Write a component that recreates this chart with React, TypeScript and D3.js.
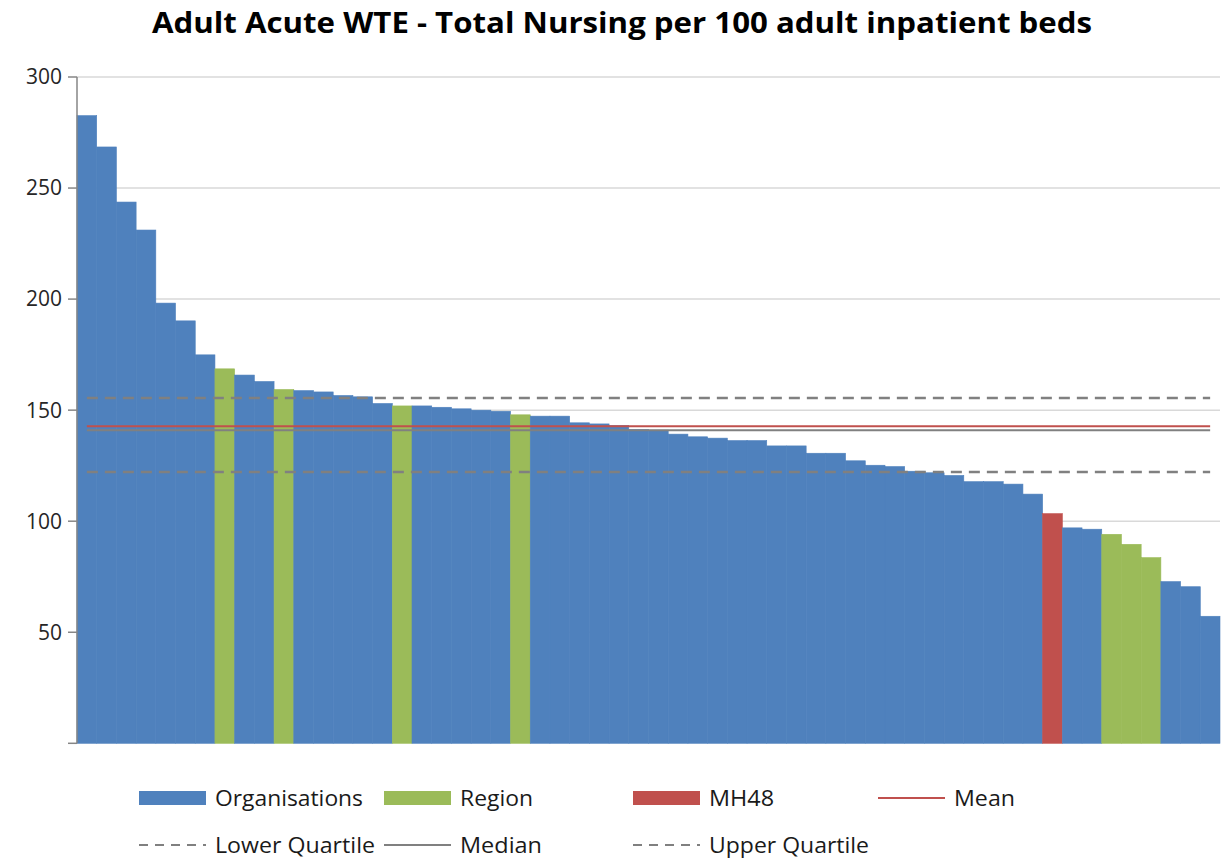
import React from "react";
import * as d3 from "d3";

const values: number[] = [
  282.6, 268.5, 243.7, 231.1, 198.2, 190.2, 174.9, 168.6, 165.8, 162.9,
  159.3, 158.8, 158.2, 156.6, 156.0, 153.0, 151.9, 151.9, 151.3, 150.6,
  150.0, 149.5, 147.9, 147.3, 147.3, 144.3, 143.8, 143.1, 141.3, 141.0,
  139.2, 138.0, 137.4, 136.3, 136.3, 133.9, 133.9, 130.6, 130.6, 127.2,
  125.2, 124.6, 122.5, 121.8, 120.6, 117.8, 117.8, 116.7, 112.2, 103.4,
  97.0, 96.4, 94.1, 89.6, 83.6, 72.8, 70.5, 57.2,
];
const groups: string[] = values.map((_, i) =>
  i === 49 ? "MH48" : [7, 10, 16, 22, 52, 53, 54].includes(i) ? "Region" : "Organisations"
);
const meanValue = 142.8;
const medianValue = 141.0;
const lowerQuartile = 122.2;
const upperQuartile = 155.5;
const yTicks: number[] = [50, 100, 150, 200, 250, 300];
const title = "Adult Acute WTE - Total Nursing per 100 adult inpatient beds";

const colors: Record<string, string> = {
  Organisations: "#4F81BD",
  Region: "#9BBB59",
  MH48: "#C0504D",
};

const W = 1221;
const H = 864;
const left = 77;
const right = 1220;
const top = 77;
const bottom = 743.3;
const FONT = "'Open Sans', Lato, sans-serif";

export default function App() {
  const idx = values.map((_, i) => String(i));
  const x = d3.scaleBand<string>().domain(idx).range([left, right]).padding(0);
  const y = d3.scaleLinear().domain([0, 300]).range([bottom, top]);
  const cx = (i: number) => (x(String(i)) as number) + x.bandwidth() / 2;
  const hline = (v: number) =>
    d3.line<number>().x((i) => cx(i)).y(() => y(v))([0, values.length - 1]) as string;

  const refLines = [
    { v: upperQuartile, color: "#808080", dash: "11 7", w: 2.5 },
    { v: lowerQuartile, color: "#808080", dash: "11 7", w: 2.5 },
    { v: medianValue, color: "#808080", dash: undefined, w: 2 },
    { v: meanValue, color: "#C0504D", dash: undefined, w: 2 },
  ];

  const legendRow1 = [
    { x: 139, label: "Organisations", kind: "rect", color: colors.Organisations, w: 148 },
    { x: 384, label: "Region", kind: "rect", color: colors.Region, w: 73 },
    { x: 633, label: "MH48", kind: "rect", color: colors.MH48, w: 65 },
    { x: 878, label: "Mean", kind: "line", color: "#C0504D", w: 61 },
  ];
  const legendRow2 = [
    { x: 139, label: "Lower Quartile", kind: "dash", color: "#808080", w: 160 },
    { x: 384, label: "Median", kind: "line", color: "#808080", w: 82 },
    { x: 633, label: "Upper Quartile", kind: "dash", color: "#808080", w: 160 },
  ];

  const renderLegend = (items: any[], yy: number) =>
    items.map((it) => (
      <g key={it.label}>
        {it.kind === "rect" ? (
          <rect x={it.x} y={yy - 7} width={67} height={14} fill={it.color} />
        ) : (
          <line
            x1={it.x}
            x2={it.x + 67}
            y1={yy}
            y2={yy}
            stroke={it.color}
            strokeWidth={2}
            strokeDasharray={it.kind === "dash" ? "9 7" : undefined}
          />
        )}
        <text
          x={it.x + 76}
          y={yy}
          dy="0.35em"
          fontSize={22}
          fill="#1a1a1a"
          fontFamily={FONT}
          textLength={it.w}
          lengthAdjust="spacingAndGlyphs"
        >
          {it.label}
        </text>
      </g>
    ));

  return (
    <svg
      width={W}
      height={H}
      style={{ position: "absolute", left: 0, top: 0, background: "#fff" }}
    >
      <text
        x={152}
        y={23}
        dy="0.35em"
        fontSize={29}
        fontWeight="bold"
        fontFamily={FONT}
        fill="#000"
        textLength={940}
        lengthAdjust="spacingAndGlyphs"
      >
        {title}
      </text>
      {yTicks.map((t) => (
        <line key={"g" + t} x1={left} x2={right} y1={y(t)} y2={y(t)} stroke="#D9D9D9" strokeWidth={1.5} />
      ))}
      {values.map((v, i) => (
        <rect
          key={i}
          x={x(String(i))}
          y={y(v)}
          width={x.bandwidth()}
          height={y(0) - y(v)}
          fill={colors[groups[i]]}
          stroke={colors[groups[i]]}
          strokeWidth={0.6}
        />
      ))}
      {refLines.map((r, k) => (
        <path key={k} d={hline(r.v)} stroke={r.color} strokeWidth={r.w} strokeDasharray={r.dash} fill="none" />
      ))}
      <line x1={left} x2={left} y1={top} y2={bottom} stroke="#868686" strokeWidth={1.5} />
      {[0, ...yTicks].map((t) => (
        <line key={"t" + t} x1={left - 9} x2={left} y1={y(t)} y2={y(t)} stroke="#868686" strokeWidth={1.5} />
      ))}
      {yTicks.map((t) => (
        <text
          key={"l" + t}
          x={62}
          y={y(t)}
          dy="0.35em"
          textAnchor="end"
          fontSize={21}
          fontFamily={FONT}
          fill="#262626"
        >
          {t}
        </text>
      ))}
      {renderLegend(legendRow1, 798)}
      {renderLegend(legendRow2, 845)}
    </svg>
  );
}
